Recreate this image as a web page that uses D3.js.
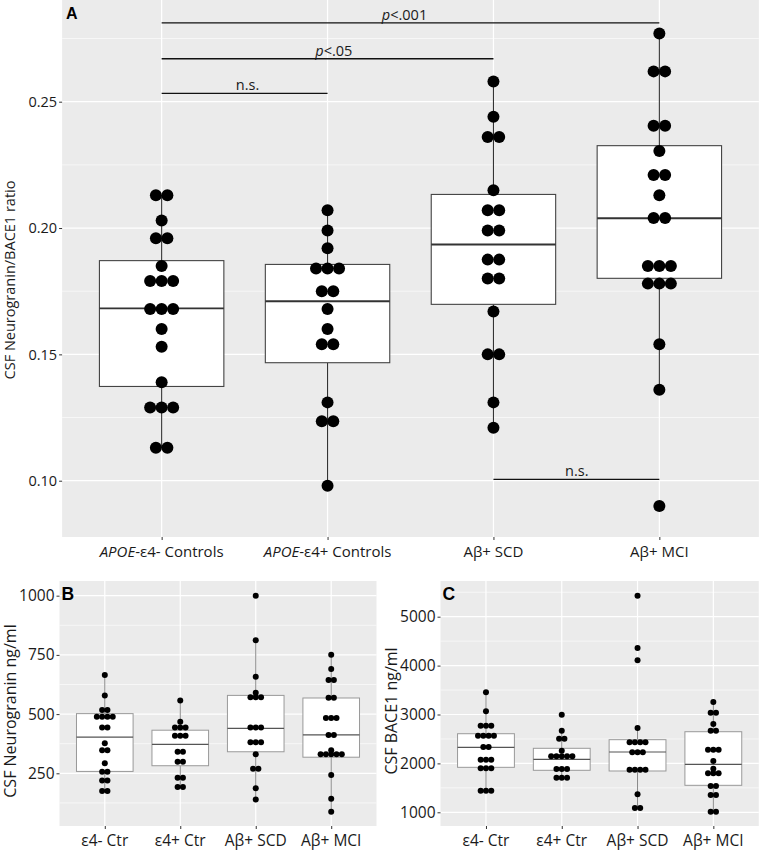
<!DOCTYPE html>
<html><head><meta charset="utf-8">
<script src="https://cdn.jsdelivr.net/npm/d3@7"></script>
<style>
body{margin:0;background:#fff;}
svg{display:block;font-family:"Open Sans",sans-serif;}
</style></head>
<body>
<svg id="chart" width="759" height="851"></svg>
<script>
// ---------- DATA ----------
const groupsA = ["APOE-ε4- Controls", "APOE-ε4+ Controls", "Aβ+ SCD", "Aβ+ MCI"];
const groupsBC = ["ε4- Ctr", "ε4+ Ctr", "Aβ+ SCD", "Aβ+ MCI"];

// Panel A: CSF Neurogranin/BACE1 ratio
const ratioCtrNeg = [0.213,0.213,0.203,0.196,0.196,0.185,0.179,0.179,0.179,0.168,0.168,0.168,0.160,0.153,0.139,0.129,0.129,0.129,0.113,0.113];
const ratioCtrPos = [0.207,0.199,0.192,0.184,0.184,0.184,0.175,0.175,0.168,0.160,0.154,0.154,0.131,0.1235,0.1235,0.098];
const ratioSCD    = [0.258,0.244,0.236,0.236,0.215,0.207,0.207,0.199,0.199,0.1875,0.1875,0.180,0.180,0.167,0.150,0.150,0.131,0.121];
const ratioMCI    = [0.277,0.262,0.262,0.2405,0.2405,0.2305,0.221,0.221,0.213,0.204,0.204,0.185,0.185,0.185,0.178,0.178,0.178,0.154,0.136,0.090];
// box stats: [lower whisker, Q1, median, Q3, upper whisker]
const boxA = [[0.113,0.1373,0.1682,0.1871,0.213],[0.098,0.1467,0.171,0.1856,0.207],[0.121,0.1698,0.1935,0.2133,0.258],[0.136,0.1801,0.2039,0.2326,0.277]];
const ticksA = [0.10, 0.15, 0.20, 0.25];

// significance annotations (category positions 1..4)
const annoFrom = [1, 1, 1, 3];
const annoTo = [4, 3, 2, 4];
const annoY = [0.2812, 0.2670, 0.2533, 0.1005];
const annoLabelX = [2.464, 2.038, 1.518, 3.502];
const annoLabel = ["p<.001", "p<.05", "n.s.", "n.s."];

// Panel B: CSF Neurogranin ng/ml
const ngCtrNeg = [665,579,517,517,489,489,489,489,443,443,377,347,347,292,257,257,220,220,175,175];
const ngCtrPos = [557,468,443,443,443,409,409,409,341,341,299,299,231,231,192,192];
const ngSCD    = [1000,812,658,590,571,571,571,443,443,443,381,381,381,330,269,269,187,139];
const ngMCI    = [751,690,644,644,569,569,483,483,483,412,412,347,330,330,330,330,330,243,143,88];
const boxB = [[175,258,403,502,665],[192,282,372,432,557],[139,341,440,579,812],[88,318,412,568,751]];
const ticksB = [250, 500, 750, 1000];

// Panel C: CSF BACE1 ng/ml
const bCtrNeg = [3454,3065,2771,2771,2771,2566,2566,2566,2566,2335,2335,2076,2076,2076,1900,1900,1900,1442,1442,1442];
const bCtrPos = [2996,2669,2505,2505,2260,2145,2145,2145,2145,2145,1885,1885,1885,1708,1708,1708];
const bSCD    = [5430,4360,4108,2724,2432,2432,2432,2432,2227,2227,2227,1871,1871,1871,1871,1368,1088,1088];
const bMCI    = [3256,3037,3037,2806,2669,2669,2280,2280,2280,2049,1892,1798,1798,1798,1538,1538,1354,1354,1012,1012];
const boxC = [[1442,1920,2329,2607,3454],[1708,1859,2084,2309,2669],[1088,1845,2233,2485,2724],[1012,1552,1982,2648,3256]];
const ticksC = [1000, 2000, 3000, 4000, 5000];

// ---------- DRAW ----------
const svg = d3.select("#chart");
svg.append("rect").attr("width", 759).attr("height", 851).attr("fill", "#fff");

function panel(cfg) {
  const g = svg.append("g");
  const x = d3.scalePoint().domain(cfg.groups).range([cfg.left, cfg.right]).padding(0.6);
  const y = d3.scaleLinear().domain(cfg.domain).range([cfg.bottom, cfg.top]);
  const step = x.step();
  g.append("rect").attr("x", cfg.left).attr("y", cfg.top)
    .attr("width", cfg.right - cfg.left).attr("height", cfg.bottom - cfg.top).attr("fill", "#ebebeb");
  const minor = [];
  for (let i = 0; i < cfg.ticks.length + 1; i++) {
    const d = cfg.ticks[1] - cfg.ticks[0];
    const v = cfg.ticks[0] - d / 2 + i * d;
    if (v > cfg.domain[0] && v < cfg.domain[1]) minor.push(v);
  }
  g.selectAll(".mg").data(minor).join("line")
    .attr("x1", cfg.left).attr("x2", cfg.right).attr("y1", d => y(d)).attr("y2", d => y(d))
    .attr("stroke", "#fff").attr("stroke-width", 0.6);
  g.selectAll(".Mg").data(cfg.ticks).join("line")
    .attr("x1", cfg.left).attr("x2", cfg.right).attr("y1", d => y(d)).attr("y2", d => y(d))
    .attr("stroke", "#fff").attr("stroke-width", 1.2);
  g.selectAll(".vg").data(cfg.groups).join("line")
    .attr("x1", d => x(d)).attr("x2", d => x(d)).attr("y1", cfg.top).attr("y2", cfg.bottom)
    .attr("stroke", "#fff").attr("stroke-width", 1.2);

  const bw = step * 0.75;
  cfg.boxes.forEach((b, i) => {
    const cx = x(cfg.groups[i]);
    g.append("line").attr("x1", cx).attr("x2", cx).attr("y1", y(b[0])).attr("y2", y(b[1]))
      .attr("stroke", cfg.whisker).attr("stroke-width", cfg.lw);
    g.append("line").attr("x1", cx).attr("x2", cx).attr("y1", y(b[3])).attr("y2", y(b[4]))
      .attr("stroke", cfg.whisker).attr("stroke-width", cfg.lw);
    g.append("rect").attr("x", cx - bw / 2).attr("y", y(b[3])).attr("width", bw).attr("height", y(b[1]) - y(b[3]))
      .attr("fill", "#fff").attr("stroke", cfg.boxStroke).attr("stroke-width", cfg.lw);
    g.append("line").attr("x1", cx - bw / 2).attr("x2", cx + bw / 2).attr("y1", y(b[2])).attr("y2", y(b[2]))
      .attr("stroke", cfg.medStroke).attr("stroke-width", cfg.medW);
  });

  cfg.series.forEach((vals, i) => {
    const cx = x(cfg.groups[i]);
    const rows = d3.rollups(vals, v => v.length, v => v);
    const pts = [];
    rows.forEach(([v, n]) => { for (let k = 0; k < n; k++) pts.push({ v, off: (k - (n - 1) / 2) * cfg.spacing }); });
    g.selectAll(null).data(pts).join("circle")
      .attr("cx", d => cx + d.off).attr("cy", d => y(d.v)).attr("r", cfg.r).attr("fill", "#000");
  });

  const ya = d3.axisLeft(y).tickValues(cfg.ticks).tickSize(3).tickPadding(2).tickFormat(cfg.fmt);
  const yg = g.append("g").attr("transform", `translate(${cfg.left},0)`).call(ya);
  yg.select(".domain").remove();
  yg.selectAll("line").attr("stroke", "#333");
  yg.selectAll("text").attr("font-size", cfg.tickFs).attr("fill", "#1a1a1a").attr("font-family", "Open Sans");
  const xa = d3.axisBottom(x).tickSize(3).tickFormat("");
  const xg = g.append("g").attr("transform", `translate(0,${cfg.bottom})`).call(xa);
  xg.select(".domain").remove();
  xg.selectAll("line").attr("stroke", "#333");
  cfg.groups.forEach(gr => {
    const t = g.append("text").attr("x", x(gr)).attr("y", cfg.xLabY).attr("text-anchor", "middle")
      .attr("font-size", cfg.xFs).attr("fill", "#1a1a1a");
    if (gr.startsWith("APOE")) {
      t.append("tspan").attr("font-style", "italic").text("APOE");
      t.append("tspan").text(gr.slice(4));
    } else t.text(gr);
  });
  g.append("text").attr("transform", `translate(${cfg.yTitleX},${cfg.yTitleY}) rotate(-90)`)
    .attr("text-anchor", "middle").attr("font-size", cfg.yTitleFs).attr("fill", "#1a1a1a").text(cfg.yTitle);
  g.append("text").attr("x", cfg.letterX).attr("y", cfg.letterY).attr("font-family", "Liberation Sans, Arial, sans-serif")
    .attr("font-weight", "bold").attr("font-size", cfg.letterFs).attr("fill", "#000").text(cfg.letter);
  return { g, x, y, step };
}

const A = panel({
  groups: groupsA, left: 62.1, right: 758.9, top: 0, bottom: 537, domain: [0.07772, 0.29025],
  ticks: ticksA, fmt: d3.format(".2f"), boxes: boxA,
  series: [ratioCtrNeg, ratioCtrPos, ratioSCD, ratioMCI],
  r: 6, spacing: 11.5, lw: 1.1, medW: 1.9, whisker: "#333", boxStroke: "#444", medStroke: "#333",
  tickFs: 14.5, xFs: 15, xLabY: 557, yTitle: "CSF Neurogranin/BACE1 ratio", yTitleX: 15, yTitleY: 280, yTitleFs: 14.5,
  letter: "A", letterX: 66, letterY: 18.5, letterFs: 16
});

annoLabel.forEach((lab, i) => {
  const x0 = A.x(groupsA[0]) + (annoFrom[i] - 1) * A.step;
  const x1 = A.x(groupsA[0]) + (annoTo[i] - 1) * A.step;
  const yy = A.y(annoY[i]);
  A.g.append("line").attr("x1", x0).attr("x2", x1).attr("y1", yy).attr("y2", yy)
    .attr("stroke", "#111").attr("stroke-width", 1.3);
  const t = A.g.append("text").attr("x", A.x(groupsA[0]) + (annoLabelX[i] - 1) * A.step).attr("y", yy - 3)
    .attr("text-anchor", "middle").attr("font-size", 14.5).attr("fill", "#1a1a1a");
  if (lab.startsWith("p")) {
    t.append("tspan").attr("font-style", "italic").text("p");
    t.append("tspan").text(lab.slice(1));
  } else t.text(lab);
});

panel({
  groups: groupsBC, left: 59.5, right: 376.5, top: 581, bottom: 826, domain: [27.5, 1062],
  ticks: ticksB, fmt: d3.format("d"), boxes: boxB,
  series: [ngCtrNeg, ngCtrPos, ngSCD, ngMCI],
  r: 3, spacing: 5.3, lw: 1, medW: 1.2, whisker: "#888", boxStroke: "#999", medStroke: "#555",
  tickFs: 15.5, xFs: 15.5, xLabY: 846, yTitle: "CSF Neurogranin ng/ml", yTitleX: 16, yTitleY: 711, yTitleFs: 16,
  letter: "B", letterX: 61.5, letterY: 600, letterFs: 17.5
});

panel({
  groups: groupsBC, left: 440.5, right: 758.8, top: 581, bottom: 826, domain: [720, 5730],
  ticks: ticksC, fmt: d3.format("d"), boxes: boxC,
  series: [bCtrNeg, bCtrPos, bSCD, bMCI],
  r: 3, spacing: 5.3, lw: 1, medW: 1.2, whisker: "#888", boxStroke: "#999", medStroke: "#555",
  tickFs: 15.5, xFs: 15.5, xLabY: 846, yTitle: "CSF BACE1 ng/ml", yTitleX: 397, yTitleY: 711, yTitleFs: 16,
  letter: "C", letterX: 442.5, letterY: 600, letterFs: 17.5
});
</script>
</body></html>
